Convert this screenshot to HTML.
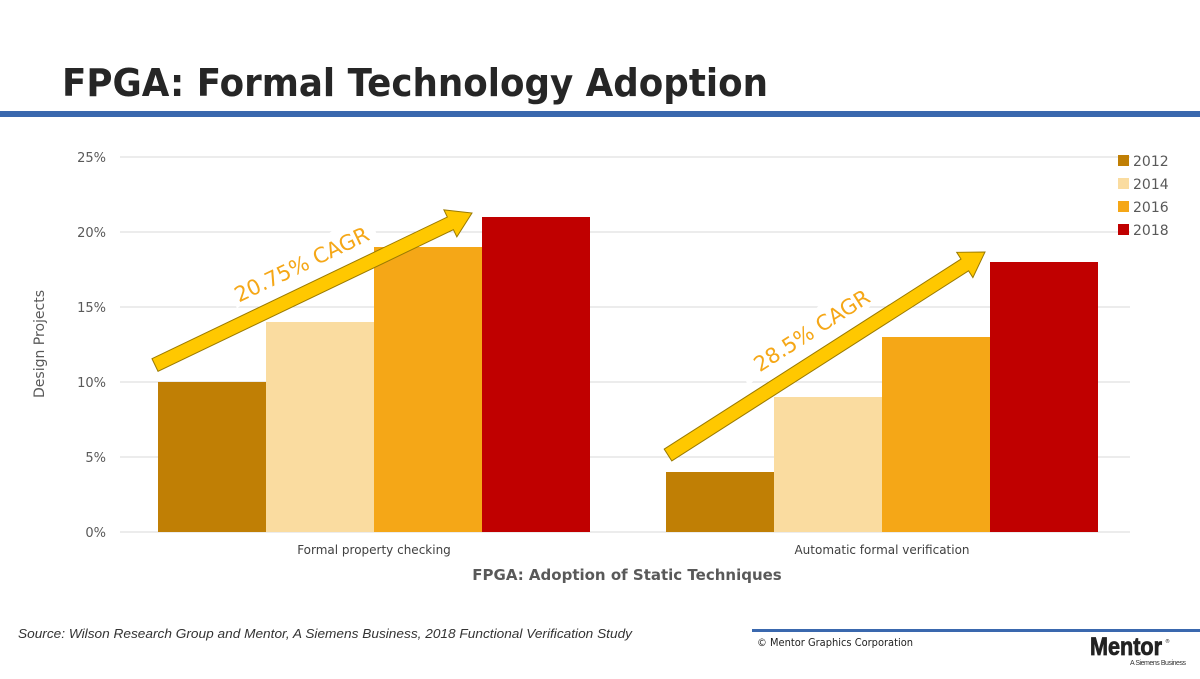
<!DOCTYPE html>
<html><head><meta charset="utf-8"><style>
body{margin:0;width:1200px;height:675px;background:#fff;overflow:hidden;font-family:"DejaVu Sans","Liberation Sans",sans-serif}
</style></head><body>
<svg width="1200" height="675" xmlns="http://www.w3.org/2000/svg">
<text x="62" y="96" font-family="DejaVu Sans" font-weight="bold" font-size="38" fill="#262626" textLength="706" lengthAdjust="spacingAndGlyphs">FPGA: Formal Technology Adoption</text>
<rect x="0" y="111" width="1200" height="6" fill="#3a68ae"/>
<g id="chart"></g>
<text x="18" y="638" font-family="Liberation Sans" font-style="italic" font-size="13" fill="#333" textLength="614" lengthAdjust="spacingAndGlyphs">Source:  Wilson Research Group and Mentor, A Siemens Business, 2018 Functional Verification Study</text>
<rect x="752" y="629" width="448" height="3" fill="#3a68ae"/>
<text x="757" y="646" font-family="DejaVu Sans" font-size="11" fill="#222" textLength="156" lengthAdjust="spacingAndGlyphs">© Mentor Graphics Corporation</text>
<text x="1090" y="655" font-family="Liberation Sans" font-weight="bold" font-size="25" fill="#222" stroke="#222" stroke-width="0.8" textLength="72" lengthAdjust="spacingAndGlyphs">Mentor</text>
<text x="1165" y="643" font-size="5" fill="#222">®</text>
<text x="1130" y="665" font-family="Liberation Sans" font-size="7" fill="#333" textLength="56">A Siemens Business</text>
</svg>
<script>
const categories=["Formal property checking","Automatic formal verification"];
const years=["2012","2014","2016","2018"];
const s2012=[10,4];
const s2014=[14,9];
const s2016=[19,13];
const s2018=[21,18];
const ticks=[0,5,10,15,20,25];
const colors=["#c07f05","#fadca0","#f5a717","#c00000"];
const series=[s2012,s2014,s2016,s2018];
const NS="http://www.w3.org/2000/svg";
const g=document.getElementById('chart');
const X0=120,X1=1136,Y0=532,Y1=157;
const y=v=>Y0-(v/25)*(Y0-Y1);
const catW=(X1-X0)/categories.length;
const barW=108;
function mk(t,a,txt){const e=document.createElementNS(NS,t);for(const k in a)e.setAttribute(k,a[k]);if(txt!==undefined)e.textContent=txt;g.appendChild(e);return e;}
ticks.forEach(t=>{
 const l=mk('line',{x1:X0,x2:1130,y1:y(t),y2:y(t),stroke:'#d9d9d9','stroke-width':1});
 
 
 const tx=mk('text',{x:106,y:y(t)+5,'text-anchor':'end','font-size':13,fill:'#595959'},t+'%');
 
 
});
categories.forEach((c,i)=>{
 const cx=X0+catW*(i+0.5);
 series.forEach((s,j)=>{
  const x=cx-2*barW+j*barW;
  const r=mk('rect',{x:x,y:y(s[i]),width:barW,height:Y0-y(s[i]),fill:colors[j]});
  
  
 });
 const t=mk('text',{x:cx,y:554,'text-anchor':'middle','font-size':12,fill:'#404040'},c);
 
 
});
const xt=mk('text',{x:627,y:580,'text-anchor':'middle','font-size':15,'font-weight':'bold',fill:'#595959'},'FPGA: Adoption of Static Techniques');


const yt=mk('text',{x:0,y:0,'text-anchor':'middle','font-size':14,fill:'#595959',transform:'translate(44,344) rotate(-90)'},'Design Projects');


years.forEach((yr,j)=>{
 const r=mk('rect',{x:1118,y:155+j*23,width:11,height:11,fill:colors[j]});
 
 
 const t=mk('text',{x:1133,y:166+j*23,'font-size':14,fill:'#595959'},yr);
 
 
});
function arrow(x0,y0,x1,y1,label,name){
 const dx=x1-x0,dy=y1-y0,L=Math.hypot(dx,dy),ang=Math.atan2(dy,dx)*180/Math.PI;
 const grp=document.createElementNS(NS,'g');
 grp.setAttribute('transform',`translate(${x0},${y0}) rotate(${ang})`);
 
 
 g.appendChild(grp);
 const p=document.createElementNS(NS,'path');
 const h=24;
 p.setAttribute('d',`M0,-7 L${L-h},-7 L${L-h},-15 L${L},0 L${L-h},15 L${L-h},7 L0,7 Z`);
 p.setAttribute('fill','#ffc800');p.setAttribute('stroke','#9a7a00');p.setAttribute('stroke-width','1');
 grp.appendChild(p);
 const bg=document.createElementNS(NS,'rect');
 bg.setAttribute('x',L*0.28);bg.setAttribute('y',-44);bg.setAttribute('width',L*0.45);bg.setAttribute('height',28);bg.setAttribute('fill','#fff');
 grp.insertBefore(bg,p);
 const t=document.createElementNS(NS,'text');
 t.setAttribute('x',L*0.5);t.setAttribute('y',-20);t.setAttribute('text-anchor','middle');
 t.setAttribute('font-size','21');t.setAttribute('fill','#f5a717');t.textContent=label;
 
 
 grp.appendChild(t);
}
arrow(155,365,472,213,'20.75% CAGR','cagr-arrow-1');
arrow(668,455,985,252,'28.5% CAGR','cagr-arrow-2');
</script>
</body></html>
